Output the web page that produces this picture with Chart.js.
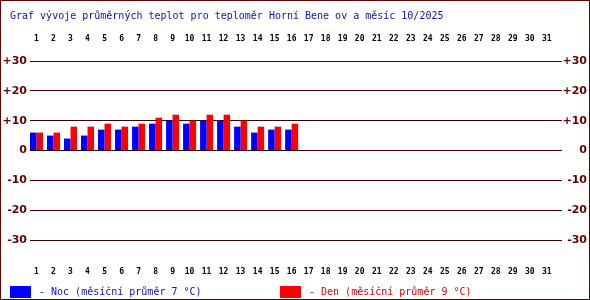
<!DOCTYPE html>
<html>
<head>
<meta charset="utf-8">
<script src="https://cdn.jsdelivr.net/npm/chart.js@4/dist/chart.umd.min.js"></script>
<style>
  html, body { margin: 0; padding: 0; background: #fff; }
  #wrap { width: 590px; height: 300px; position: relative; }
</style>
</head>
<body>
<div id="wrap"><canvas id="myChart" width="590" height="300"></canvas></div>
<script>
// data
var days = [1, 2, 3, 4, 5, 6, 7, 8, 9, 10, 11, 12, 13, 14, 15, 16,
            17, 18, 19, 20, 21, 22, 23, 24, 25, 26, 27, 28, 29, 30, 31];
var nocValues = [6, 5, 4, 5, 7, 7, 8, 9, 10, 9, 10, 10, 8, 6, 7, 7];
var denValues = [6, 6, 8, 8, 9, 8, 9, 11, 12, 10, 12, 12, 10, 8, 8, 9];
var yTicks = [-30, -20, -10, 0, 10, 20, 30];

var titleText = 'Graf vývoje průměrných teplot pro teploměr Horní Bene ov a měsíc 10/2025';
var nocLabel = '- Noc (měsíční průměr 7 °C)';
var denLabel = '- Den (měsíční průměr 9 °C)';

var darkRed = '#660000';
var gridColor = '#3a0000';
var monoFont = '"DejaVu Sans Mono", monospace';

function points(values) {
    return values.map(function (v, i) { return {x: days[i], y: v}; });
}

function dayTicks(scale) {
    scale.ticks = days.map(function (d) { return {value: d}; });
}

function tempLabel(v) {
    return v > 0 ? '+' + v : String(v);
}

// title, legend and frame are drawn on top of the chart
var decorPlugin = {
    id: 'decor',
    afterDraw: function (chart) {
        var ctx = chart.ctx;
        ctx.save();
        ctx.font = '10px ' + monoFont;
        ctx.textBaseline = 'middle';
        ctx.textAlign = 'left';

        ctx.fillStyle = '#1010c0';
        ctx.fillText(titleText, 10, 16);

        var ds = chart.data.datasets;
        ctx.fillStyle = ds[0].backgroundColor;
        ctx.fillRect(10, 286, 21, 12);
        ctx.fillStyle = '#1010c0';
        ctx.fillText(ds[0].label, 39, 292);

        ctx.fillStyle = ds[1].backgroundColor;
        ctx.fillRect(280, 286, 21, 12);
        ctx.fillStyle = '#e00000';
        ctx.fillText(ds[1].label, 309, 292);

        ctx.strokeStyle = darkRed;
        ctx.lineWidth = 1;
        ctx.strokeRect(0.5, 0.5, 589, 299);
        ctx.restore();
    }
};

var xTickOpts = {
    color: '#000',
    font: {family: monoFont, size: 8, weight: 'bold'},
    maxRotation: 0,
    autoSkip: false
};

var ctx = document.getElementById('myChart').getContext('2d');
var chart = new Chart(ctx, {
    type: 'bar',
    data: {
        datasets: [{
            label: nocLabel,
            backgroundColor: '#0000ff',
            data: points(nocValues)
        }, {
            label: denLabel,
            backgroundColor: '#ff0000',
            data: points(denValues)
        }]
    },
    options: {
        responsive: false,
        animation: false,
        layout: {padding: {right: 3}},
        datasets: {
            bar: {categoryPercentage: 0.765, barPercentage: 1.0, borderWidth: 0}
        },
        plugins: {
            legend: {display: false},
            title: {display: false},
            tooltip: {enabled: false}
        },
        scales: {
            x: {
                type: 'linear',
                position: 'bottom',
                offset: false,
                min: 0.618,
                max: 31.894,
                grid: {display: false},
                border: {display: false},
                afterBuildTicks: dayTicks,
                afterFit: function (s) { s.height = 60; },
                ticks: Object.assign({padding: 19}, xTickOpts)
            },
            xTop: {
                type: 'linear',
                position: 'top',
                offset: false,
                min: 0.618,
                max: 31.894,
                grid: {display: false},
                border: {display: false},
                afterBuildTicks: dayTicks,
                afterFit: function (s) { s.height = 61; },
                ticks: Object.assign({padding: 9}, xTickOpts)
            },
            y: {
                position: 'left',
                min: -30,
                max: 30,
                afterBuildTicks: function (s) {
                    s.ticks = yTicks.map(function (v) { return {value: v}; });
                },
                afterFit: function (s) { s.width = 30; },
                grid: {color: gridColor, drawTicks: false, lineWidth: 1},
                border: {display: false},
                ticks: {
                    padding: 3,
                    color: darkRed,
                    font: {family: '"DejaVu Sans"', size: 11, weight: 'bold'},
                    callback: tempLabel
                }
            },
            yRight: {
                position: 'right',
                min: -30,
                max: 30,
                afterBuildTicks: function (s) {
                    s.ticks = yTicks.map(function (v) { return {value: v}; });
                },
                afterFit: function (s) { s.width = 25; },
                grid: {display: false},
                border: {display: false},
                ticks: {
                    crossAlign: 'far',
                    color: darkRed,
                    font: {family: '"DejaVu Sans"', size: 11, weight: 'bold'},
                    callback: tempLabel
                }
            }
        }
    },
    plugins: [decorPlugin]
});
</script>
</body>
</html>
